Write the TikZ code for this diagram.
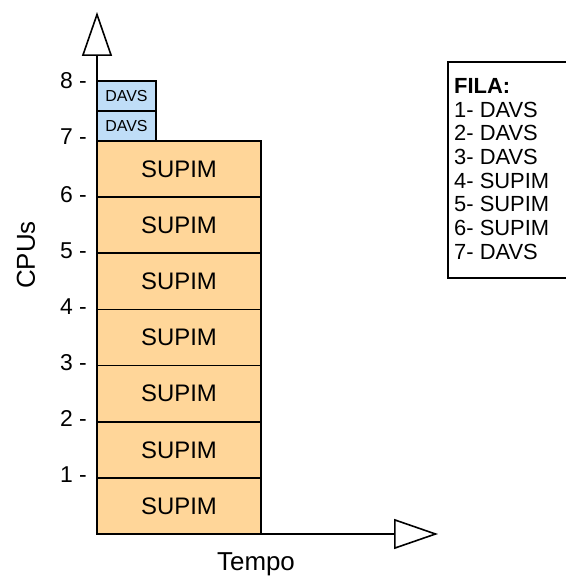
\documentclass[tikz,border=0pt]{standalone}
\usepackage{fontspec}
\setmainfont{Liberation Sans}
\usetikzlibrary{arrows.meta}
\definecolor{supimfill}{RGB}{255,214,153}
\definecolor{davsfill}{RGB}{191,221,247}
\tikzset{
	supim/.style={draw, fill=supimfill, line width=1.6bp, minimum width=164bp, minimum height=56.14bp, inner sep=0pt, font=\fontsize{24}{28}\selectfont},
	davs/.style={draw, fill=davsfill, line width=1.6bp, minimum width=59bp, minimum height=30bp, inner sep=0pt, font=\fontsize{16}{19}\selectfont},
	ticklabel/.style={anchor=east, inner sep=0pt, font=\fontsize{23}{27}\selectfont},
	axis/.style={line width=1.6bp, -{Triangle[open, length=44bp, width=30bp]}}
}

\begin{document}
\begin{tikzpicture}[x=1bp, y=1bp]
			%%%%% START %%%%%
			\useasboundingbox (-97, -44) rectangle (469, 534);
			
			% column of jobs
			\node[supim] (s1) at (82, 28.07) {SUPIM};
			\node[supim] (s2) at (82, 84.21) {SUPIM};
			\node[supim] (s3) at (82, 140.35) {SUPIM};
			\node[supim] (s4) at (82, 196.49) {SUPIM};
			\node[supim] (s5) at (82, 252.63) {SUPIM};
			\node[supim] (s6) at (82, 308.77) {SUPIM};
			\node[supim] (s7) at (82, 364.91) {SUPIM};
			
			\node[davs] (d1) at (29.5, 408) {DAVS};
			\node[davs] (d2) at (29.5, 438) {DAVS};
			
			% axes
			\coordinate (orig) at (0, 0);
			\coordinate (ytop) at (0, 522);
			\coordinate (xend) at (341, 0);
			\draw[axis] (orig) -- (ytop);
			\draw[axis] (orig) -- (xend);
			
			\node[ticklabel] (t1) at (-10, 59.1) {1 -};
			\node[ticklabel] (t2) at (-10, 115.3) {2 -};
			\node[ticklabel] (t3) at (-10, 171.4) {3 -};
			\node[ticklabel] (t4) at (-10, 227.6) {4 -};
			\node[ticklabel] (t5) at (-10, 283.7) {5 -};
			\node[ticklabel] (t6) at (-10, 339.8) {6 -};
			\node[ticklabel] (t7) at (-10, 397.5) {7 -};
			\node[ticklabel] (t8) at (-10, 453) {8 -};
			
			\node[rotate=90, font=\fontsize{26}{30}\selectfont] (cpus) at (-71, 279) {CPUs};
			\node[anchor=base, font=\fontsize{26}{30}\selectfont] (tempo) at (159, -36) {Tempo};
			
			% queue
			\draw[line width=1.6bp] (351, 256) rectangle (475, 472);
			\node[anchor=north west, inner sep=0pt, align=left, font=\fontsize{22}{23.7}\selectfont] (fila) at (357, 455.5)
				{\textbf{FILA:}\\1- DAVS\\2- DAVS\\3- DAVS\\4- SUPIM\\5- SUPIM\\6- SUPIM\\7- DAVS};
			
			%%%%% END %%%%%
\end{tikzpicture}
\end{document}
